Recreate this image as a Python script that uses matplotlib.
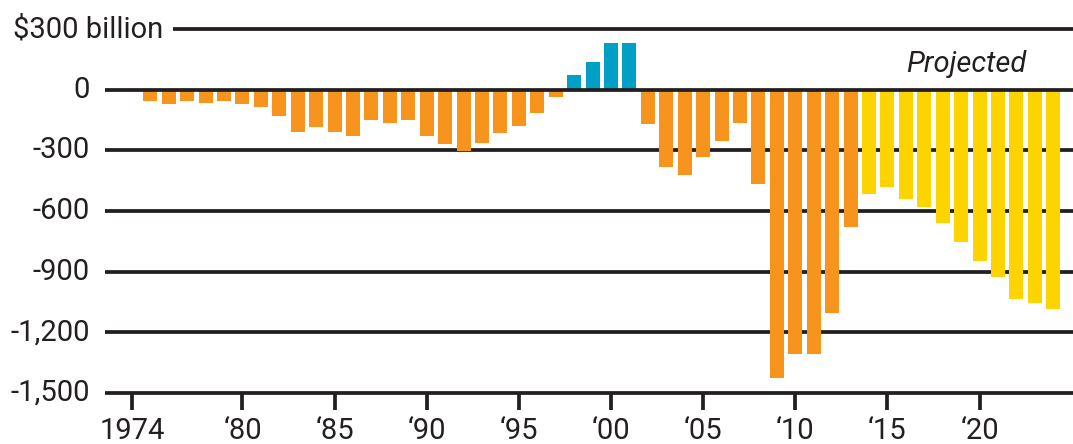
import matplotlib
matplotlib.use("Agg")
import matplotlib.pyplot as plt
from matplotlib.transforms import blended_transform_factory

# ---- data (billions of dollars) ----
actual_years = list(range(1975, 2014))
actual_values = [-54, -69, -54, -64, -54, -69, -84, -128, -208, -183,
                 -208, -227, -148, -163, -148, -227, -267, -301, -262, -212,
                 -178, -114, -35, 73, 137, 231, 231, -168, -381, -420,
                 -331, -252, -163, -465, -1424, -1305, -1305, -1103, -679]
projected_years = list(range(2014, 2025))
projected_values = [-516, -481, -541, -580, -659, -753, -847, -925, -1034, -1053, -1083]

y_ticks = [300, 0, -300, -600, -900, -1200, -1500]
y_labels = ["$300 billion", "0", "-300", "-600", "-900", "-1,200", "-1,500"]
x_ticks = [1974, 1980, 1985, 1990, 1995, 2000, 2005, 2010, 2015, 2020]
x_labels = ["1974", "\u201880", "\u201885", "\u201890", "\u201895", "\u201800",
            "\u201805", "\u201810", "\u201815", "\u201820"]

ORANGE = "#F7941E"
BLUE = "#00A0C6"
YELLOW = "#FDD300"
DARK = "#231F20"

plt.rcParams['font.family'] = ['Roboto', 'DejaVu Sans']

fig = plt.figure(figsize=(10.73, 4.44), dpi=100)
ax = fig.add_axes([105/1073, 1 - 393/444, 1 - 105/1073, (393 - 29)/444])

act_colors = [BLUE if v > 0 else ORANGE for v in actual_values]
ax.bar(actual_years, actual_values, width=0.76, color=act_colors, zorder=3)
ax.bar(projected_years, projected_values, width=0.76, color=YELLOW, zorder=3)

ax.set_xlim(1972.54, 2025.07)
ax.set_ylim(-1500, 300)

lw = 2.7
for v in y_ticks:
    xmin = 0.0702 if v == 300 else 0.0
    z = 4 if v == 0 else 1
    ax.axhline(v, xmin=xmin, xmax=1, color=DARK, lw=lw, zorder=z,
               clip_on=False, solid_capstyle='butt')

trans = blended_transform_factory(ax.transAxes, ax.transData)
for v, lab in zip(y_ticks, y_labels):
    if v == 300:
        ax.text(58/968, v, lab, transform=trans, ha='right', va='center',
                fontsize=21, color=DARK)
    else:
        ax.text(-15/968, v, lab, transform=trans, ha='right', va='center',
                fontsize=21, color=DARK)

ax.set_yticks([])
ax.set_xticks(x_ticks)
ax.set_xticklabels(x_labels, fontsize=21, color=DARK)
ax.tick_params(axis='x', direction='out', length=12, width=lw, color=DARK, pad=5)
for s in ax.spines.values():
    s.set_visible(False)

ax.text(2019.26, 127, "Projected", fontsize=21, style='italic', color=DARK,
        ha='center', va='center')

fig.savefig("out.png", dpi=100)
